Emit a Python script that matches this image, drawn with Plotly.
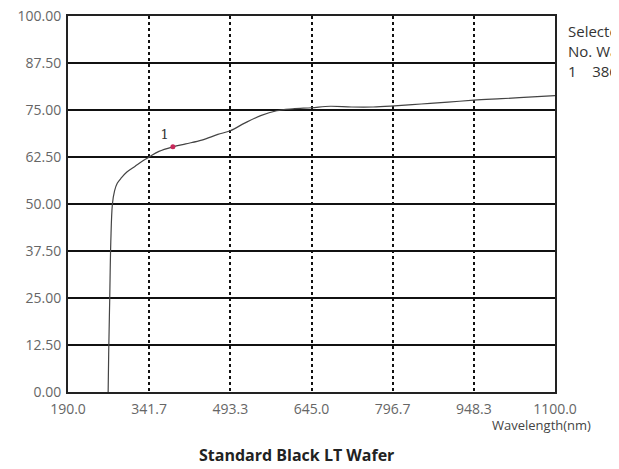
import plotly.graph_objects as go

# Data
wavelength = [265, 266, 268, 270, 273, 277, 282, 290, 300, 315, 330, 341.7, 360, 386,
              410, 440, 470, 493.3, 520, 550, 580, 610, 645, 680, 720, 760, 800,
              850, 900, 948.3, 1000, 1050, 1100]
reflectance = [0, 10, 25, 40, 50, 53.5, 55.5, 57, 58.5, 60, 61.5, 62.5, 64, 65.2,
               66, 67, 68.5, 69.5, 71.5, 73.5, 74.8, 75.3, 75.6, 76, 75.8, 75.8, 76.1,
               76.6, 77.1, 77.6, 78, 78.4, 78.8]
sel_wl = [386]
sel_val = [65.2]
sel_label = ["1"]

x_ticks = [190.0, 341.7, 493.3, 645.0, 796.7, 948.3, 1100.0]
x_ticktext = ["190.0", "341.7", "493.3", "645.0", "796.7", "948.3", "1100.0"]
y_ticks = [0, 12.5, 25, 37.5, 50, 62.5, 75, 87.5, 100]
y_ticktext = ["0.00", "12.50", "25.00", "37.50", "50.00", "62.50", "75.00", "87.50", "100.00"]

fig = go.Figure()
fig.add_trace(go.Scatter(x=wavelength, y=reflectance, mode="lines",
                         line=dict(color="#444444", width=1.2, shape="spline"),
                         showlegend=False, hoverinfo="skip"))
fig.add_trace(go.Scatter(x=sel_wl, y=sel_val, mode="markers+text",
                         marker=dict(color="#c8285a", size=5),
                         text=sel_label, textposition="top left",
                         textfont=dict(family="DejaVu Serif", size=13, color="#333333"),
                         showlegend=False, hoverinfo="skip"))

tickfont = dict(family="Open Sans", size=14, color="#666666")
fig.update_layout(
    width=619, height=469,
    margin=dict(l=60, r=72, t=8, b=85, autoexpand=False),
    paper_bgcolor="white", plot_bgcolor="white",
    font=dict(family="Open Sans", color="#555555", size=14),
    xaxis=dict(range=[190, 1100], tickvals=x_ticks, ticktext=x_ticktext,
               showgrid=True, gridcolor="#111111", gridwidth=2, griddash="dot",
               showline=True, linecolor="#222222", linewidth=2, mirror=True,
               zeroline=False, ticks="", tickfont=tickfont, ticklabeloverflow="allow",
               ticklabelstandoff=3),
    yaxis=dict(range=[0, 100], tickvals=y_ticks, ticktext=y_ticktext,
               showgrid=True, gridcolor="#111111", gridwidth=2,
               showline=True, linecolor="#222222", linewidth=2, mirror=True,
               zeroline=False, ticks="", ticklabelstandoff=2, tickfont=tickfont,
               ticklabeloverflow="allow"),
)

fig.add_annotation(x=0.867, y=-0.088, xref="paper", yref="paper", xanchor="left", yanchor="middle",
                   text="Wavelength(nm)", showarrow=False,
                   font=dict(family="Open Sans", size=13, color="#444444"))
fig.add_annotation(x=0.47, y=-0.168, xref="paper", yref="paper", xanchor="center", yanchor="middle",
                   text="<b>Standard Black LT Wafer</b>", showarrow=False,
                   font=dict(family="Open Sans", size=16, color="#222222"))
for i, t in enumerate(["Selected", "No. Wavelength", "1    386.0   65.20"]):
    fig.add_annotation(x=1.0, y=0.96 - i * 0.053, xref="paper", yref="paper",
                       xanchor="left", yanchor="middle", xshift=11,
                       text=t, showarrow=False,
                       font=dict(family="Open Sans", size=15, color="#333333"))

fig.write_html("out.html")
